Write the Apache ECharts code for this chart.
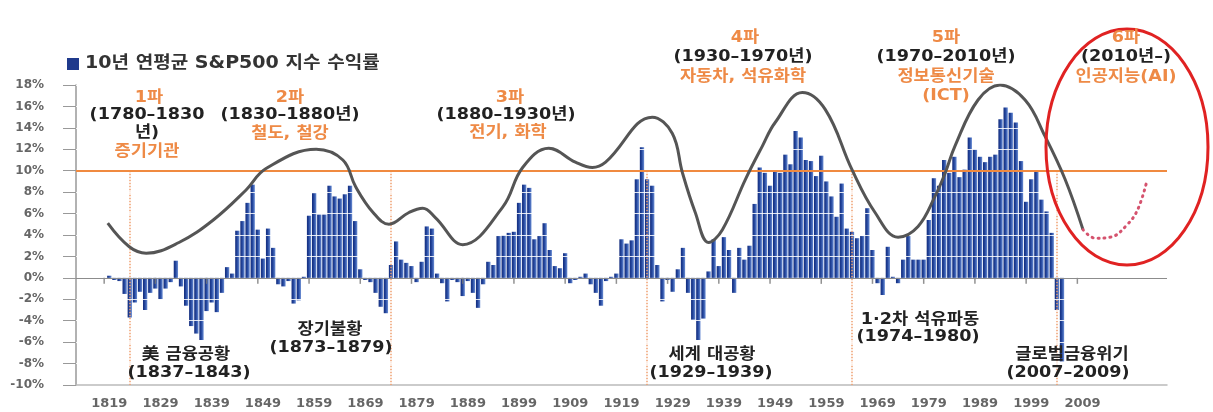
<!DOCTYPE html>
<html>
<head>
<meta charset="utf-8">
<script src="https://cdn.jsdelivr.net/npm/echarts@6/dist/echarts.min.js"></script>
<style>
  html, body { margin: 0; padding: 0; background: #ffffff; }
  #chart { width: 1213px; height: 412px; }
</style>
</head>
<body>
<div id="chart"></div>
<script>
// Axis range (years) and tick labelling
const firstYear = 1813;
const lastYear = 2025;
const labelStartYear = 1819;
const labelEndYear = 2009;
const labelStep = 10;
const tickStartYear = 1818;

// 10-year annualised S&P500 return (%), one value per year from 1819
const returnStartYear = 1819;
const returns = [
  0.2, -0.2, -0.3, -1.5, -3.7, -2.3, -1.3, -3.0, -1.4, -1.0,   // 1819-1828
  -2.0, -1.0, -0.4, 1.6, -0.8, -2.6, -4.5, -5.2, -5.8, -3.1,   // 1829-1838
  -2.3, -3.2, -1.4, 1.0, 0.4, 4.4, 5.3, 7.0, 8.7, 4.5,         // 1839-1848
  1.8, 4.6, 2.8, -0.6, -0.8, -0.3, -2.4, -2.1, 0.1, 5.8,       // 1849-1858
  7.9, 5.9, 5.9, 8.6, 7.6, 7.4, 7.8, 8.6, 5.3, 0.8,            // 1859-1868
  -0.2, -0.4, -1.4, -2.7, -3.3, 1.2, 3.4, 1.7, 1.4, 1.1,       // 1869-1878
  -0.4, 1.5, 4.8, 4.6, 0.4, -0.5, -2.2, -0.2, -0.4, -1.7,      // 1879-1888
  -0.3, -1.4, -2.8, -0.6, 1.5, 1.2, 3.9, 4.0, 4.2, 4.3,        // 1889-1898
  7.0, 8.7, 8.4, 3.6, 3.9, 5.1, 2.6, 1.1, 0.9, 2.3,            // 1899-1908
  -0.5, -0.2, 0.1, 0.4, -0.6, -1.4, -2.6, -0.3, 0.1, 0.4,      // 1909-1918
  3.6, 3.2, 3.5, 9.2, 12.2, 9.2, 8.6, 1.2, -2.2, -0.2,         // 1919-1928
  -1.3, 0.8, 2.8, -1.4, -3.9, -5.8, -3.8, 0.6, 3.6, 1.1,       // 1929-1938
  3.8, 2.6, -1.4, 2.8, 1.7, 3.0, 6.9, 10.3, 9.8, 8.6,          // 1939-1948
  9.9, 9.8, 11.5, 10.6, 13.7, 13.1, 11.0, 10.9, 9.5, 11.4,     // 1949-1958
  9.0, 7.6, 5.7, 8.8, 4.6, 4.3, 3.7, 3.9, 6.5, 2.6,            // 1959-1968
  -0.5, -1.6, 2.9, 0.1, -0.5, 1.7, 3.9, 1.7, 1.7, 1.7,         // 1969-1978
  5.4, 9.3, 8.6, 11.0, 9.8, 11.3, 9.4, 10.1, 13.1, 12.0,       // 1979-1988
  11.3, 10.8, 11.3, 11.5, 14.8, 15.9, 15.4, 14.5, 10.9, 7.1,   // 1989-1998
  9.2, 9.9, 7.3, 6.2, 4.2, -3.0, -7.8                          // 1999-2005
];

// Long-wave cycle curve: [year, %]
const waveCurve = [
  [1818.7, 5.1], [1822.9, 2.9], [1826.2, 2.3], [1832.6, 3.3], [1839.3, 5.4],
  [1845.7, 8.2], [1849.6, 10.2], [1859.4, 12.0], [1864.6, 11.0], [1867.1, 8.5],
  [1870.5, 6.1], [1873.6, 5.0], [1877.5, 6.1], [1880.2, 6.5], [1882.7, 5.6],
  [1888.0, 3.1], [1895.8, 6.6], [1899.7, 10.3], [1904.8, 12.1], [1910.0, 10.8],
  [1913.3, 10.3], [1915.9, 10.8], [1925.0, 15.0], [1928.9, 13.5], [1930.9, 9.8],
  [1933.4, 6.1], [1936.0, 3.3], [1938.7, 4.5], [1943.2, 9.2], [1946.5, 12.3],
  [1949.0, 14.5], [1954.3, 17.3], [1958.8, 15.7], [1964.0, 10.1], [1968.5, 6.1],
  [1973.0, 3.8], [1976.9, 4.8], [1980.2, 7.6], [1982.2, 9.8], [1984.1, 12.3],
  [1988.6, 16.6], [1992.9, 18.0], [1997.8, 16.6], [2001.7, 13.2], [2005.6, 9.2],
  [2009.1, 4.5]
];

// Projected 6th wave (dotted)
const outlookCurve = [
  [2009.1, 4.5], [2011.5, 3.7], [2014.5, 3.8], [2017.8, 5.0], [2019.8, 6.4], [2021.5, 8.9]
];

// Wave boundary markers and reference level
const waveBoundaryYears = [1823, 1874, 1924, 1964, 2004];
const referenceLevel = 10;

// Y axis
const yMin = -10, yMax = 18, yStep = 2;

const seriesName = '10년 연평균 S&P500 지수 수익률';

const ORANGE = '#ee8a46';
const DARK = '#222222';
const BAR_DARK = '#1f3a8c';
const FONT = '"DejaVu Sans", "Noto Sans CJK KR", sans-serif';

const annotations = [
  { text: '1파', x: 149, y: 98, color: ORANGE },
  { text: '(1780–1830', x: 147, y: 115, color: DARK },
  { text: '년)', x: 147, y: 133, color: DARK },
  { text: '증기기관', x: 147, y: 152, color: ORANGE },
  { text: '2파', x: 290, y: 98, color: ORANGE },
  { text: '(1830–1880년)', x: 290, y: 115, color: DARK },
  { text: '철도, 철강', x: 290, y: 134, color: ORANGE },
  { text: '3파', x: 510, y: 98, color: ORANGE },
  { text: '(1880–1930년)', x: 506, y: 115, color: DARK },
  { text: '전기, 화학', x: 508, y: 133, color: ORANGE },
  { text: '4파', x: 745, y: 38, color: ORANGE },
  { text: '(1930–1970년)', x: 743, y: 57, color: DARK },
  { text: '자동차, 석유화학', x: 743, y: 77, color: ORANGE },
  { text: '5파', x: 946, y: 38, color: ORANGE },
  { text: '(1970–2010년)', x: 946, y: 57, color: DARK },
  { text: '정보통신기술', x: 946, y: 77, color: ORANGE },
  { text: '(ICT)', x: 946, y: 96, color: ORANGE },
  { text: '6파', x: 1126, y: 38, color: ORANGE },
  { text: '(2010년–)', x: 1126, y: 57, color: DARK },
  { text: '인공지능(AI)', x: 1126, y: 77, color: ORANGE },
  { text: '美 금융공황', x: 186, y: 355, color: DARK },
  { text: '(1837–1843)', x: 189, y: 373, color: DARK },
  { text: '장기불황', x: 330, y: 330, color: DARK },
  { text: '(1873–1879)', x: 331, y: 348, color: DARK },
  { text: '세계 대공황', x: 712, y: 355, color: DARK },
  { text: '(1929–1939)', x: 711, y: 373, color: DARK },
  { text: '1·2차 석유파동', x: 920, y: 320, color: DARK },
  { text: '(1974–1980)', x: 918, y: 337, color: DARK },
  { text: '글로벌금융위기', x: 1072, y: 355, color: DARK },
  { text: '(2007–2009)', x: 1068, y: 373, color: DARK }
];

// ---- build category axis and bar data ----
const years = [];
for (let y = firstYear; y <= lastYear; y++) years.push(String(y));
const barData = years.map(y => {
  const i = Number(y) - returnStartYear;
  return (i >= 0 && i < returns.length) ? returns[i] : null;
});
const emptyData = years.map(() => null);

// small tick marks hanging below the zero line, one per decade
const zeroTickYears = [];
for (let y = tickStartYear; y <= labelEndYear; y += labelStep) zeroTickYears.push(y);

const gridLevels = [];
for (let v = yMin + yStep; v <= yMax; v += yStep) {
  if (v !== 0 && v !== referenceLevel) gridLevels.push(v);
}

const chart = echarts.init(document.getElementById('chart'), null, { renderer: 'canvas' });

chart.setOption({
  animation: false,
  backgroundColor: '#ffffff',
  grid: { left: 76, right: 46, top: 85, bottom: 27, containLabel: false },
  xAxis: [
    {
      type: 'category', data: years, position: 'bottom',
      axisLine: { onZero: false, lineStyle: { color: '#bbbbbb', width: 1.5 } },
      axisTick: { show: false },
      axisLabel: {
        interval: (idx, val) => {
          const y = Number(val);
          return y <= labelEndYear && (y - labelStartYear) % labelStep === 0;
        },
        color: '#666666', fontSize: 13, fontWeight: 'bold', fontFamily: FONT, margin: 12
      },
      splitLine: { show: false }
    },
    {
      type: 'value', position: 'bottom', show: false,
      min: firstYear - 0.5, max: lastYear + 0.5
    }
  ],
  yAxis: {
    type: 'value', min: yMin, max: yMax, interval: yStep,
    axisLine: { show: true, onZero: false, lineStyle: { color: '#999999', width: 1.5 } },
    axisTick: { show: true, length: 13, lineStyle: { color: '#999999' } },
    axisLabel: {
      formatter: '{value}%', color: '#666666', fontSize: 12, fontWeight: 'bold',
      fontFamily: FONT, margin: 32
    },
    splitLine: { show: false }
  },
  series: [
    {
      // wave boundary markers, behind the bars
      type: 'line', xAxisIndex: 0, data: emptyData, z: 1, silent: true,
      showSymbol: false,
      markLine: {
        silent: true, symbol: 'none', label: { show: false },
        lineStyle: { color: '#f0a070', type: 'dotted', width: 1.5 },
        data: waveBoundaryYears.map(y => [
          { coord: [String(y), referenceLevel] },
          { coord: [String(y), yMin] }
        ])
      }
    },
    {
      name: seriesName, type: 'bar', xAxisIndex: 0, yAxisIndex: 0,
      data: barData, barCategoryGap: '16%', z: 2,
      itemStyle: {
        color: new echarts.graphic.LinearGradient(0, 0, 1, 0, [
          { offset: 0, color: '#132c7c' },
          { offset: 0.45, color: '#24479e' },
          { offset: 1, color: '#6a8dd4' }
        ])
      }
    },
    {
      // light gridlines drawn over the bars
      type: 'line', xAxisIndex: 0, data: emptyData, z: 3, silent: true,
      showSymbol: false,
      markLine: {
        silent: true, symbol: 'none', label: { show: false },
        lineStyle: { color: 'rgba(255,255,255,0.85)', type: 'solid', width: 1 },
        data: gridLevels.map(v => ({ yAxis: v }))
      }
    },
    {
      // zero line
      type: 'line', xAxisIndex: 0, data: emptyData, z: 3, silent: true,
      showSymbol: false,
      markLine: {
        silent: true, symbol: 'none', label: { show: false },
        lineStyle: { color: '#8c8c8c', type: 'solid', width: 1.2 },
        data: [{ yAxis: 0 }]
      }
    },
    {
      // decade ticks below the zero line
      type: 'scatter', xAxisIndex: 0, z: 3, silent: true,
      data: zeroTickYears.map(y => [String(y), 0]),
      symbol: 'rect', symbolSize: [1.5, 6], symbolOffset: [0, 3],
      itemStyle: { color: '#777777' }
    },
    {
      type: 'line', xAxisIndex: 0, data: emptyData, z: 4, silent: true,
      showSymbol: false,
      markLine: {
        silent: true, symbol: 'none', label: { show: false },
        lineStyle: { color: '#f08a40', type: 'solid', width: 2 },
        data: [{ yAxis: referenceLevel }]
      }
    },
    {
      type: 'line', xAxisIndex: 1, data: waveCurve, z: 5, silent: true,
      smooth: 0.4, showSymbol: false,
      lineStyle: { color: '#555555', width: 3 }
    },
    {
      type: 'line', xAxisIndex: 1, data: outlookCurve, z: 5, silent: true,
      smooth: 0.4, showSymbol: false,
      lineStyle: { color: '#d5536e', width: 3, type: [1, 5], cap: 'round' }
    }
  ],
  graphic: [
    {
      // series key
      type: 'rect', silent: true, z: 10,
      shape: { x: 67, y: 58, width: 12, height: 12 },
      style: { fill: BAR_DARK }
    },
    {
      type: 'text', x: 85, y: 64, scaleX: 1.12, silent: true, z: 10,
      style: {
        text: seriesName, fill: '#333333', font: 'bold 17px ' + FONT,
        textAlign: 'left', textVerticalAlign: 'middle'
      }
    },
    {
      type: 'ellipse', silent: true, z: 10,
      shape: { cx: 1127, cy: 147, rx: 81, ry: 118 },
      style: { fill: 'none', stroke: '#e02222', lineWidth: 3 }
    }
  ].concat(annotations.map(a => ({
    type: 'text', x: a.x, y: a.y, scaleX: 1.1, silent: true, z: 10,
    style: {
      text: a.text, fill: a.color, font: 'bold 16px ' + FONT,
      textAlign: 'center', textVerticalAlign: 'middle'
    }
  })))
});
</script>
</body>
</html>
